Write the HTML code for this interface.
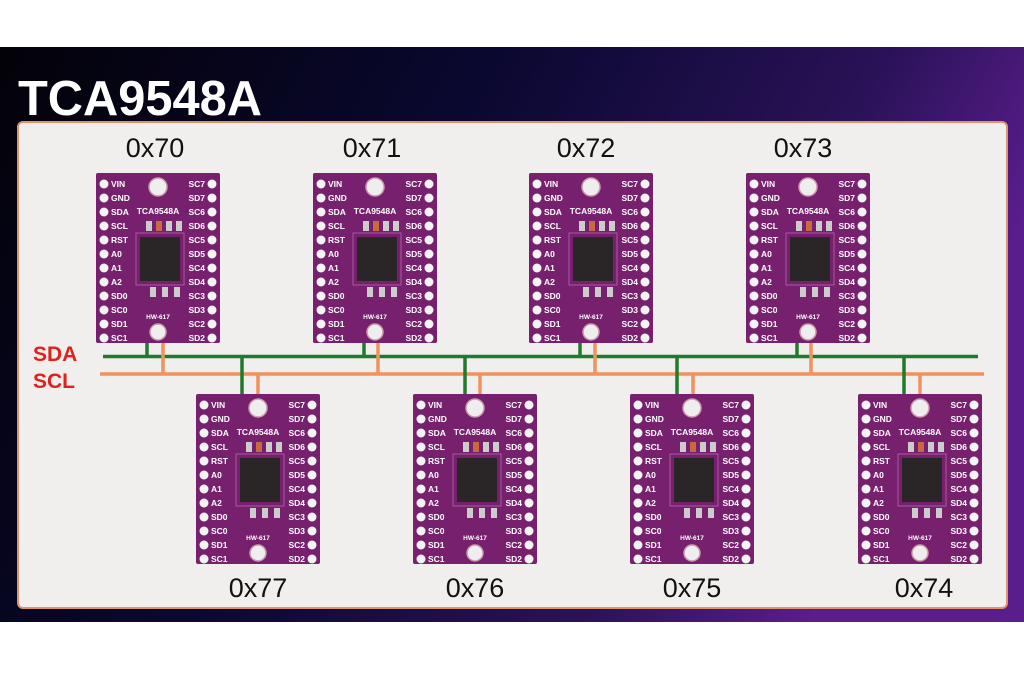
<!DOCTYPE html>
<html><head><meta charset="utf-8"><style>
html,body{margin:0;padding:0;width:1024px;height:684px;overflow:hidden;background:#fff}
svg{display:block}
.pl{font:bold 8.5px "Liberation Sans",sans-serif;fill:#fff}
.lab{font:27px "Liberation Sans",sans-serif;fill:#111}
</style></head><body>
<svg width="1024" height="684" viewBox="0 0 1024 684" xmlns="http://www.w3.org/2000/svg">
<defs>
<linearGradient id="bg" x1="0" x2="1" y1="0" y2="0.3">
<stop offset="0" stop-color="#030208"/><stop offset="0.45" stop-color="#0a0830"/><stop offset="0.8" stop-color="#2a1258"/><stop offset="1" stop-color="#5a1d8c"/>
</linearGradient>
</defs>
<rect x="0" y="47" width="1024" height="575" fill="url(#bg)"/>
<text x="18" y="115" font-family="Liberation Sans,sans-serif" font-weight="bold" font-size="49" fill="#fff" textLength="244" lengthAdjust="spacingAndGlyphs">TCA9548A</text>
<rect x="18" y="122" width="989" height="486" rx="5" fill="#f1efed" stroke="#e0936a" stroke-width="2"/>
<text x="33" y="361" font-family="Liberation Sans,sans-serif" font-weight="bold" font-size="21" fill="#e0201e">SDA</text>
<text x="33" y="388" font-family="Liberation Sans,sans-serif" font-weight="bold" font-size="21" fill="#e0201e">SCL</text>
<g stroke-width="3.5" fill="none">
<line x1="103" y1="356.5" x2="978" y2="356.5" stroke="#1f7a2c"/>
<line x1="100" y1="374" x2="984" y2="374" stroke="#f0925e"/>
<g stroke="#1f7a2c">
<line x1="147" y1="340" x2="147" y2="357"/><line x1="364" y1="340" x2="364" y2="357"/><line x1="580" y1="340" x2="580" y2="357"/><line x1="797" y1="340" x2="797" y2="357"/>
<line x1="242" y1="356" x2="242" y2="396"/><line x1="465" y1="356" x2="465" y2="396"/><line x1="677" y1="356" x2="677" y2="396"/><line x1="904" y1="356" x2="904" y2="396"/>
</g>
<g stroke="#f0925e">
<line x1="163" y1="340" x2="163" y2="374"/><line x1="378" y1="340" x2="378" y2="374"/><line x1="595" y1="340" x2="595" y2="374"/><line x1="811" y1="340" x2="811" y2="374"/>
<line x1="258" y1="374" x2="258" y2="396"/><line x1="480" y1="374" x2="480" y2="396"/><line x1="693" y1="374" x2="693" y2="396"/><line x1="920" y1="374" x2="920" y2="396"/>
</g>
</g>
<text class="lab" x="155" y="157" text-anchor="middle">0x70</text>
<text class="lab" x="372" y="157" text-anchor="middle">0x71</text>
<text class="lab" x="586" y="157" text-anchor="middle">0x72</text>
<text class="lab" x="803" y="157" text-anchor="middle">0x73</text>
<text class="lab" x="258" y="597" text-anchor="middle">0x77</text>
<text class="lab" x="475" y="597" text-anchor="middle">0x76</text>
<text class="lab" x="692" y="597" text-anchor="middle">0x75</text>
<text class="lab" x="924" y="597" text-anchor="middle">0x74</text>
<g id="boards"></g>
</svg>
<script>
var pos=[[96,173],[313,173],[529,173],[746,173],[196,394],[413,394],[630,394],[858,394]];
var L=["VIN","GND","SDA","SCL","RST","A0","A1","A2","SD0","SC0","SD1","SC1"];
var R=["SC7","SD7","SC6","SD6","SC5","SD5","SC4","SD4","SC3","SD3","SC2","SD2"];
var s="";
pos.forEach(function(p){
 s+='<g transform="translate('+p[0]+','+p[1]+')">';
 s+='<rect x="0" y="0" width="124" height="170" rx="2" fill="#76206e"/>';
 s+='<rect x="44" y="64" width="40" height="44" fill="#2a2628"/>';
 s+='<rect x="40" y="60" width="48" height="52" fill="none" stroke="#a85aa0" stroke-width="1"/>';
 s+='<rect x="50" y="48" width="6" height="10" fill="#ccc"/><rect x="60" y="48" width="6" height="10" fill="#c86a40"/><rect x="70" y="48" width="6" height="10" fill="#ccc"/><rect x="80" y="48" width="6" height="10" fill="#ccc"/>';
 s+='<rect x="54" y="114" width="6" height="10" fill="#ccc"/><rect x="66" y="114" width="6" height="10" fill="#ccc"/><rect x="78" y="114" width="6" height="10" fill="#ccc"/>';
 s+='<circle cx="62" cy="14" r="9" fill="#eee" stroke="#c9a" stroke-width="1.5"/>';
 s+='<circle cx="62" cy="159" r="8" fill="#eee" stroke="#c9a" stroke-width="1.5"/>';
 s+='<text class="pl" x="62" y="41" text-anchor="middle">TCA9548A</text>';
 s+='<text class="pl" x="62" y="146" text-anchor="middle" style="font-size:6.5px">HW-617</text>';
 for(var i=0;i<12;i++){var y=11+14*i;
  s+='<circle cx="8" cy="'+y+'" r="4.5" fill="#f4f4f4"/><circle cx="116" cy="'+y+'" r="4.5" fill="#f4f4f4"/>';
  s+='<text class="pl" x="15" y="'+(y+3)+'">'+L[i]+'</text><text class="pl" x="109" y="'+(y+3)+'" text-anchor="end">'+R[i]+'</text>';}
 s+='</g>';
});
document.getElementById("boards").innerHTML=s;
</script>
</body></html>
